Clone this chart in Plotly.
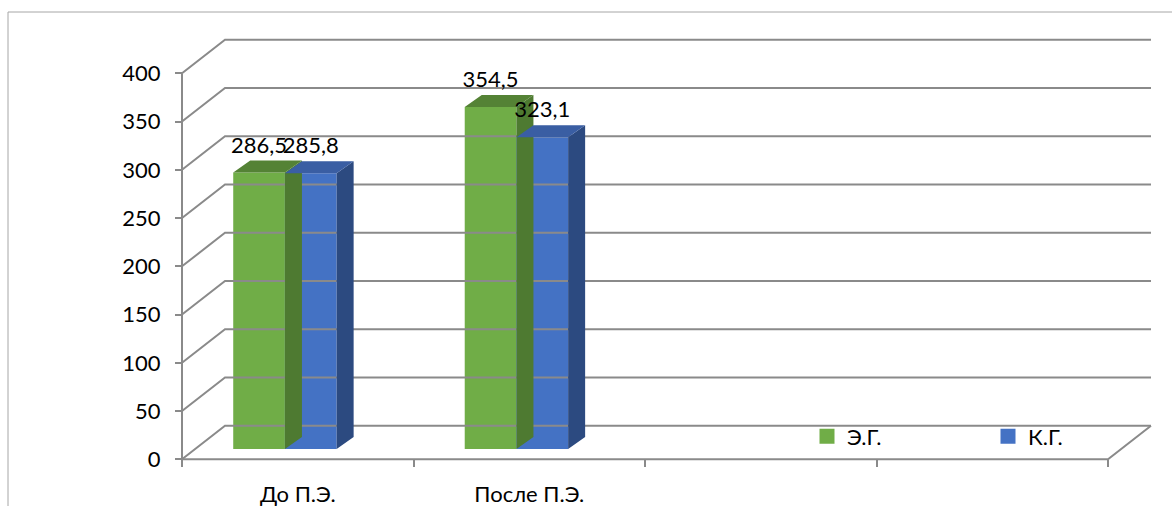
import plotly.graph_objects as go

# ---- data ----
categories = ["До П.Э.", "После П.Э.", "", ""]
series_names = ["Э.Г.", "К.Г."]
eg_values = [286.5, 354.5]
kg_values = [285.8, 323.1]
y_ticks = [0, 50, 100, 150, 200, 250, 300, 350, 400]

# ---- styling / geometry ----
W, H = 1172, 506
PX_X = 231.5          # px per category unit
PX_Y = 0.965          # px per value unit
X0_PX = 182           # pixel of x=0 (front-left corner)
Y0_PX = 459.3         # pixel of value 0 on front plane
WALL_DX = 43 / PX_X   # depth offset of back wall
WALL_DY = 33.5 / PX_Y
BAR_BASE = 10.3 / PX_Y  # bar front face plane
BAR_DX = 17 / PX_X
BAR_DY = 12 / PX_Y
BAR_W = 51.7 / PX_X
OFF_GREEN = -0.2787
OFF_BLUE = OFF_GREEN + BAR_W
N_CAT = len(categories)

green = dict(front="#70AD47", top="#548235", side="#4E7A31")
blue = dict(front="#4472C4", top="#3A5EA3", side="#2C4A80")
grid_col = "#8A8A8A"
FONT = "Lato, 'Open Sans', sans-serif"

fig = go.Figure()

# back wall gridlines with diagonals on left wall
gx, gy = [], []
for v in y_ticks:
    gx += [0, WALL_DX, N_CAT + WALL_DX, None]
    gy += [v, v + WALL_DY, v + WALL_DY, None]
# floor front edge + right diagonal
gx += [0, N_CAT, N_CAT + WALL_DX, None]
gy += [0, 0, WALL_DY, None]
# front vertical axis
gx += [0, 0, None]
gy += [0, y_ticks[-1], None]
fig.add_trace(go.Scatter(x=gx, y=gy, mode="lines", line=dict(color=grid_col, width=2),
                         hoverinfo="skip", showlegend=False))


def faces(values, offset):
    tx, ty, sx, sy = [], [], [], []
    for i, v in enumerate(values):
        xl = i + 0.5 + offset
        xr = xl + BAR_W
        t = BAR_BASE + v
        tx += [xl, xr, xr + BAR_DX, xl + BAR_DX, xl, None]
        ty += [t, t, t + BAR_DY, t + BAR_DY, t, None]
        sx += [xr, xr + BAR_DX, xr + BAR_DX, xr, xr, None]
        sy += [BAR_BASE, BAR_BASE + BAR_DY, t + BAR_DY, t, BAR_BASE, None]
    return tx, ty, sx, sy


for vals, off, col in [(eg_values, OFF_GREEN, green), (kg_values, OFF_BLUE, blue)]:
    tx, ty, sx, sy = faces(vals, off)
    fig.add_trace(go.Scatter(x=sx, y=sy, mode="lines", fill="toself", fillcolor=col["side"],
                             line=dict(width=0), hoverinfo="skip", showlegend=False))
    fig.add_trace(go.Scatter(x=tx, y=ty, mode="lines", fill="toself", fillcolor=col["top"],
                             line=dict(width=0), hoverinfo="skip", showlegend=False))

# data labels
for vals, off in [(eg_values, OFF_GREEN), (kg_values, OFF_BLUE)]:
    fig.add_trace(go.Scatter(
        x=[i + 0.5 + off + BAR_W / 2 for i in range(len(vals))],
        y=[BAR_BASE + v + 25.5 / PX_Y for v in vals],
        mode="text", text=[f"{v:.1f}".replace(".", ",") for v in vals],
        textposition="middle center", textfont=dict(size=22, color="#000000", family=FONT),
        hoverinfo="skip", showlegend=False))

# legend proxies (one legend per series so they can be placed independently)
legend_x_px = [807, 988]
for k, (name, col) in enumerate(zip(series_names, [green, blue])):
    fig.add_trace(go.Scatter(x=[None], y=[None], mode="markers", name=name,
                             legend="legend" if k == 0 else "legend2",
                             marker=dict(symbol="square", size=15, color=col["front"])))

# front faces (bars)
for name, vals, off, col in [(series_names[0], eg_values, OFF_GREEN, green),
                             (series_names[1], kg_values, OFF_BLUE, blue)]:
    fig.add_trace(go.Bar(x=[i + 0.5 for i in range(len(vals))], y=vals, base=BAR_BASE,
                         offset=off, width=BAR_W, marker=dict(color=col["front"], line=dict(width=0)),
                         name=name, showlegend=False, hoverinfo="skip"))

x_range = [-X0_PX / PX_X, (W - X0_PX) / PX_X]
y_range = [-(H - Y0_PX) / PX_Y, Y0_PX / PX_Y]

leg_common = dict(orientation="h", xanchor="left", y=(H - 436.5) / H, yanchor="middle",
                  font=dict(size=22, family=FONT, color="#000000"),
                  bgcolor="rgba(0,0,0,0)", itemclick=False, itemdoubleclick=False)

fig.update_layout(
    width=W, height=H,
    margin=dict(l=0, r=0, t=0, b=0, autoexpand=False),
    paper_bgcolor="white", plot_bgcolor="white",
    font=dict(family=FONT, size=22, color="#000000"),
    showlegend=True,
    legend=dict(x=legend_x_px[0] / W, **leg_common),
    legend2=dict(x=legend_x_px[1] / W, **leg_common),
    xaxis=dict(range=x_range, showgrid=False, zeroline=False, showline=False,
               anchor="free", position=(H - Y0_PX) / H,
               tickmode="array", tickvals=[i + 0.5 for i in range(N_CAT)], ticktext=categories,
               ticks="", ticklabelstandoff=20,
               minor=dict(tickmode="array", tickvals=list(range(N_CAT + 1)), ticks="outside",
                          ticklen=7, tickcolor=grid_col, tickwidth=1.5, showgrid=False)),
    yaxis=dict(range=y_range, showgrid=False, zeroline=False, showline=False,
               anchor="free", position=X0_PX / W,
               tickmode="array", tickvals=y_ticks, ticks="outside", ticklen=7,
               tickcolor=grid_col, tickwidth=1.5, ticklabelstandoff=10),
    shapes=[dict(type="rect", xref="paper", yref="paper", x0=8 / W, x1=1.02,
                 y0=-0.05, y1=(H - 12) / H, line=dict(color="#A6A6A6", width=1),
                 fillcolor="rgba(0,0,0,0)", layer="below")],
)

fig.write_html("out.html")
